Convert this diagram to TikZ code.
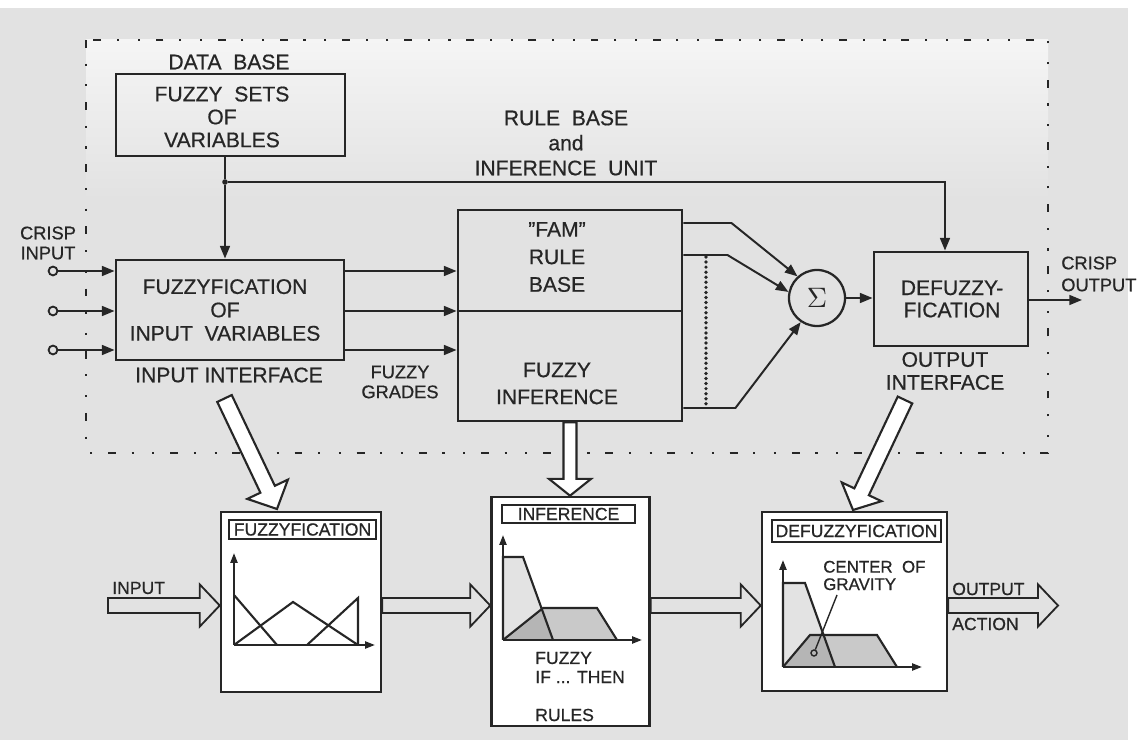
\documentclass[tikz,border=0pt]{standalone}
\usepackage{fontspec}
\setmainfont{Liberation Sans}[FakeBold=0.6]
\usetikzlibrary{arrows.meta,calc}
\definecolor{bg}{RGB}{226,226,226}
\definecolor{ink}{RGB}{38,38,38}
\newcommand\hollowarrow[6]{%
  \draw[#1] let \p1=(#2), \p2=(#3), \n1={atan2(\y2-\y1,\x2-\x1)}, \n2={veclen(\x2-\x1,\y2-\y1)} in
    ($(\p1)+(\n1+90:#4)$) -- ($(\p1)+(\n1:\n2-#6)+(\n1+90:#4)$) -- ($(\p1)+(\n1:\n2-#6)+(\n1+90:#5)$)
    -- (\p2) -- ($(\p1)+(\n1:\n2-#6)+(\n1-90:#5)$) -- ($(\p1)+(\n1:\n2-#6)+(\n1-90:#4)$)
    -- ($(\p1)+(\n1-90:#4)$) -- cycle;}
\begin{document}
\begin{tikzpicture}[x=0.025cm,y=-0.025cm,
  box/.style={draw=ink, line width=2pt, inner sep=0pt},
  txt/.style={text=ink, align=center, inner sep=0pt, font=\fontsize{15}{16.3}\selectfont},
  stxt/.style={text=ink, align=left, inner sep=0pt, anchor=west, font=\fontsize{12.5}{14}\selectfont},
  conn/.style={draw=ink, line width=1.4pt, -{Triangle[length=9pt,width=7pt]}},
  plain/.style={draw=ink, line width=1.4pt},
  panel/.style={draw=ink, line width=1.8pt, fill=white, inner sep=0pt},
  ttl/.style={draw=ink, line width=1.4pt, inner sep=0pt, text=ink, font=\fontsize{12.5}{14}\selectfont},
  hol/.style={draw=ink, line width=1.3pt, line join=miter},
  fat/.style={draw=ink, line width=1.5pt, fill=white, line join=miter},
  ax/.style={draw=ink, line width=1.4pt, -{Triangle[length=7pt,width=5pt]}},
  mf/.style={draw=ink, line width=1.5pt, line join=miter},
  dashdot/.style={draw=ink, line width=1.8pt, dash pattern=on 5.6pt off 11.2pt on 1.5pt off 13.2pt on 1.5pt off 11.2pt}
]
\useasboundingbox (0,0) rectangle (1140,740);
% background
\fill[white] (0,0) rectangle (1140,740);
\fill[bg] (0,8) rectangle (1128,740);
\shade[top color=white!96!black, bottom color=bg] (86,40) rectangle (1048,200);
% dash-dot frame
\draw[dashdot] (86,40) rectangle (1048,453);

% data base
\node[txt] (dbl) at (229,62) {DATA\ \ BASE};
\node[box, minimum width=5.725cm, minimum height=2.05cm] (db) at (230.5,115) {};
\node[txt, font=\fontsize{15}{16.3}\selectfont] (dbt) at (222,117) {FUZZY\ \ SETS\\OF\\VARIABLES};

% rule base label
\node[txt, font=\fontsize{15}{17.8}\selectfont] (rbl) at (566,143) {RULE\ \ BASE\\and\\INFERENCE\ \ UNIT};

% fuzzyfication box
\node[box, minimum width=5.7cm, minimum height=2.5cm] (fz) at (230,310) {};
\node[txt, font=\fontsize{15}{16.6}\selectfont] (fzt) at (225,310) {FUZZYFICATION\\OF\\INPUT\ \ VARIABLES};
\node[txt] (iil) at (229,375) {INPUT INTERFACE};
\node[txt, font=\fontsize{13}{14.2}\selectfont] (fgl) at (400,382) {FUZZY\\GRADES};
\node[txt, font=\fontsize{13}{14.2}\selectfont] (cil) at (48,243) {CRISP\\INPUT};

% FAM box
\node[box, minimum width=5.6cm, minimum height=5.275cm] (fam) at (570,315.5) {};
\draw[draw=ink, line width=0.9pt] (fam.west |- 0,311) -- (fam.east |- 0,311);
\node[txt, font=\fontsize{15}{19.6}\selectfont] (famt) at (557,257) {\symbol{34}FAM\symbol{34}\\RULE\\BASE};
\node[txt, font=\fontsize{15}{19.2}\selectfont] (fit) at (557,383.5) {FUZZY\\INFERENCE};

% defuzzyfication box
\node[box, minimum width=3.85cm, minimum height=2.35cm] (df) at (951,299) {};
\node[txt, font=\fontsize{15}{15.8}\selectfont] (dft) at (952,299) {DEFUZZY-\\FICATION};

% junction and data base connectors
\node[circle, fill=ink, inner sep=0pt, minimum size=0.14cm] (jn) at (225,182) {};
\draw[plain] (db.south -| jn) -- (jn);
\draw[conn] (jn) -- (jn |- fz.north);
\draw[conn] (jn) -| ($(df.north)+(-6,0)$);

% crisp inputs
\foreach \i/\yy in {1/271,2/311,3/350}{
  \node[circle, draw=ink, line width=1.3pt, fill=bg, minimum size=0.22cm, inner sep=0pt] (in\i) at (53,\yy) {};
  \draw[conn] (in\i) -- (in\i -| fz.west);
  \draw[conn] (in\i -| fz.east) -- (in\i -| fam.west);
}

% sigma
\node[circle, draw=ink, line width=1.6pt, minimum size=1.4cm, inner sep=0pt, text=ink] (sig) at (817,298) {\scalebox{2}{$\Sigma$}};
\draw[conn] (fam.east |- 0,223) -- ++(48,0) -- (sig.132);
\draw[conn] (fam.east |- 0,255) -- ++(44,0) -- (sig.168);
\draw[conn] (fam.east |- 0,408) -- ++(52,0) -- (sig.236);
\draw[draw=ink, line width=2.6pt, dash pattern=on 0pt off 3.6pt, line cap=round] (706,257) -- (706,406);

\draw[conn] (sig) -- (sig -| df.west);
\coordinate (cout) at (1082,300);
\draw[conn] (df.east |- cout) -- (cout);
\node[stxt, font=\fontsize{13}{15.6}\selectfont] (col) at (1061,274) {CRISP\\OUTPUT};
\node[txt] (oil) at (945,371) {OUTPUT\\INTERFACE};

% bottom panels
\node[panel, minimum width=4cm, minimum height=4.5cm] (fp) at (301,602) {};
\node[panel, minimum width=3.95cm, minimum height=5.725cm] (ip) at (570.5,611.5) {};
\node[panel, minimum width=4.625cm, minimum height=4.475cm] (dp) at (854.5,601.5) {};
\node[ttl, minimum width=3.675cm, minimum height=0.475cm] (ft) at (302.5,529.5) {FUZZYFICATION};
\node[ttl, minimum width=3.325cm, minimum height=0.45cm] (it) at (568.5,514) {INFERENCE};
\node[ttl, minimum width=4.225cm, minimum height=0.55cm] (dt) at (856.5,531) {DEFUZZYFICATION};

% fat arrows
\coordinate (fa1s) at (224.5,398.5);
\coordinate (fa1e) at (277,509);
\hollowarrow{fat}{fa1s}{fa1e}{5.7pt}{16pt}{15.5pt}
\hollowarrow{fat}{fam.south}{fam.south |- ip.north}{4.6pt}{15pt}{12pt}
\coordinate (fa3s) at (905,400);
\coordinate (fa3e) at (853,510);
\hollowarrow{fat}{fa3s}{fa3e}{5.7pt}{15.6pt}{14.2pt}

% hollow horizontal arrows
\coordinate (inA) at (108,605.5);
\coordinate (outA) at (1058,605.5);
\hollowarrow{hol}{inA}{fp.west |- inA}{5.3pt}{15pt}{14.2pt}
\hollowarrow{hol}{fp.east |- inA}{ip.west |- inA}{5.3pt}{15pt}{14.2pt}
\hollowarrow{hol}{ip.east |- inA}{dp.west |- inA}{5.3pt}{15pt}{14.2pt}
\hollowarrow{hol}{dp.east |- inA}{outA}{5.3pt}{15pt}{14.2pt}
\node[stxt] (inl) at (112,588) {INPUT};
\node[stxt] (oal) at (952,589) {OUTPUT};
\node[stxt] (acl) at (952,624) {ACTION};

% fuzzyfication graph
\draw[mf] (234,595) -- (277,645);
\draw[mf] (234,645) -- (293,602) -- (358,645);
\draw[mf] (307,645) -- (358,598) -- (358,645);
\draw[ax] (234,645) -- (234,553);
\draw[ax] (234,645) -- (375,645);

% inference graph
\fill[gray!22] (503,640) -- (503,557) -- (523,557) -- (553,640) -- cycle;
\fill[gray!42] (503,640) -- (543,608) -- (597,608) -- (617,640) -- cycle;
\fill[gray!58] (503,640) -- (541.5,608.5) -- (553,640) -- cycle;
\draw[mf] (503,640) -- (503,557) -- (523,557) -- (553,640);
\draw[mf] (503,640) -- (543,608) -- (597,608) -- (617,640);
\draw[ax] (503,640) -- (503,535);
\draw[ax] (503,640) -- (642,640);
\node[stxt] (ifz) at (535,658) {FUZZY};
\node[stxt] (ift) at (535,677) {IF ... THEN};
\node[stxt] (ifr) at (535,715) {RULES};

% defuzzyfication graph
\fill[gray!22] (783,667) -- (783,583) -- (805,583) -- (835,667) -- cycle;
\fill[gray!42] (783,667) -- (810,635) -- (877,635) -- (897,667) -- cycle;
\fill[gray!58] (783,667) -- (810,635) -- (823.6,635) -- (835,667) -- cycle;
\draw[mf] (783,667) -- (783,583) -- (805,583) -- (835,667);
\draw[mf] (783,667) -- (810,635) -- (877,635) -- (897,667);
\draw[ax] (783,667) -- (783,560);
\draw[ax] (783,667) -- (922,667);
\node[circle, draw=ink, line width=1pt, minimum size=0.15cm, inner sep=0pt] (cog) at (814,653) {};
\node[stxt, font=\fontsize{12}{12.4}\selectfont] (cgl) at (823,575.5) {CENTER\ \ OF\\GRAVITY};
\draw[draw=ink, line width=1pt] (837,595) -- (cog);
\end{tikzpicture}
\end{document}
